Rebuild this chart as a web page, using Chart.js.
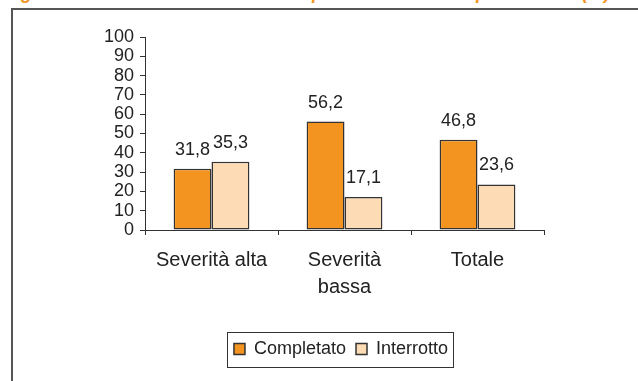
<!DOCTYPE html>
<html>
<head>
<meta charset="utf-8">
<script src="https://cdn.jsdelivr.net/npm/chart.js@4/dist/chart.umd.min.js"></script>
<style>
    html, body { margin: 0; padding: 0; background: #fff; overflow: hidden; }
    #wrap { position: relative; width: 638px; height: 381px; }
    #cornice { position: absolute; left: 11px; top: 8px; width: 700px; height: 500px;
        border-left: 2px solid #555; border-top: 2px solid #555; }
    #titolo { position: absolute; left: 5px; top: -16px; white-space: nowrap;
        font: italic bold 18px "Liberation Sans", Arial, sans-serif; color: #F39421; line-height: 18px; }
    canvas { position: absolute; left: 0; top: 0; }
</style>
</head>
<body>
<div id="wrap">
    <div id="titolo">Figura 2 - Esito dei trattamenti: completato e interrotto per severità (%)</div>
    <div id="cornice"></div>
    <canvas id="grafico" width="638" height="381"></canvas>
</div>
<script>
// Dati
const categorie = ["Severità alta", ["Severità", "bassa"], "Totale"];
const completato = [31.8, 56.2, 46.8];
const interrotto = [35.3, 17.1, 23.6];
const tickY = [0, 10, 20, 30, 40, 50, 60, 70, 80, 90, 100];

const FONT = "'Liberation Sans', Arial, sans-serif";
const BORDO = "#333";

// Etichette sopra le barre (virgola decimale)
const etichetteValori = {
    id: "etichetteValori",
    afterDatasetsDraw(chart) {
        let ctx = chart.ctx;
        ctx.save();
        ctx.font = "18px " + FONT;
        ctx.fillStyle = "#222";
        ctx.textAlign = "center";
        ctx.textBaseline = "alphabetic";
        chart.data.datasets.forEach((ds, i) => {
            chart.getDatasetMeta(i).data.forEach((bar, j) => {
                let testo = ds.data[j].toFixed(1).replace(".", ",");
                ctx.fillText(testo, bar.x, bar.y - 14);
            });
        });
        ctx.restore();
    }
};

// Riquadro attorno alla legenda
const riquadroLegenda = {
    id: "riquadroLegenda",
    afterDraw(chart) {
        let boxes = chart.legend.legendHitBoxes;
        if (!boxes || !boxes.length) return;
        let sx = boxes[0].left;
        let last = boxes[boxes.length - 1];
        let dx = last.left + last.width;
        let cy = boxes[0].top + boxes[0].height / 2;
        let ctx = chart.ctx;
        ctx.save();
        ctx.strokeStyle = BORDO;
        ctx.lineWidth = 1;
        ctx.strokeRect(Math.round(sx - 7) + 0.5, Math.round(cy - 17) + 0.5, Math.round(dx - sx + 12), 35);
        ctx.restore();
    }
};

let ctx = document.getElementById("grafico").getContext("2d");

new Chart(ctx, {
    type: "bar",
    data: {
        labels: categorie,
        datasets: [
            {
                label: "Completato",
                data: completato,
                backgroundColor: "#F39421",
                borderColor: BORDO,
                borderWidth: 1.5,
                borderSkipped: false,
                categoryPercentage: 0.57,
                barPercentage: 1
            },
            {
                label: "Interrotto",
                data: interrotto,
                backgroundColor: "#FDDBB4",
                borderColor: BORDO,
                borderWidth: 1.5,
                borderSkipped: false,
                categoryPercentage: 0.57,
                barPercentage: 1
            }
        ]
    },
    options: {
        responsive: false,
        animation: false,
        layout: { padding: { left: 44, top: 37, right: 0, bottom: 13 } },
        plugins: {
            title: { display: false },
            tooltip: { enabled: false },
            legend: {
                position: "bottom",
                labels: {
                    boxWidth: 11,
                    boxHeight: 11,
                    padding: 10,
                    color: "#222",
                    font: { family: FONT, size: 18 }
                }
            }
        },
        scales: {
            x: {
                grid: { display: true, drawOnChartArea: false, drawTicks: true, tickLength: 5, color: BORDO, offset: true },
                border: { color: BORDO, width: 1 },
                ticks: { color: "#222", padding: 12, font: { family: FONT, size: 20, lineHeight: 1.35 }, maxRotation: 0, autoSkip: false },
                afterFit: s => { s.height = 100; }
            },
            y: {
                min: 0,
                max: 100,
                afterBuildTicks: s => { s.ticks = tickY.map(v => ({ value: v })); },
                grid: { display: true, drawOnChartArea: false, drawTicks: true, tickLength: 5, color: BORDO },
                border: { color: BORDO, width: 1 },
                ticks: { color: "#222", padding: 6, autoSkip: false, font: { family: FONT, size: 18 } },
                afterFit: s => { s.width = 101; }
            },
            destra: {
                position: "right",
                display: true,
                grid: { display: false },
                border: { display: false },
                ticks: { display: false },
                afterFit: s => { s.width = 94; }
            }
        }
    },
    plugins: [etichetteValori, riquadroLegenda]
});
</script>
</body>
</html>
